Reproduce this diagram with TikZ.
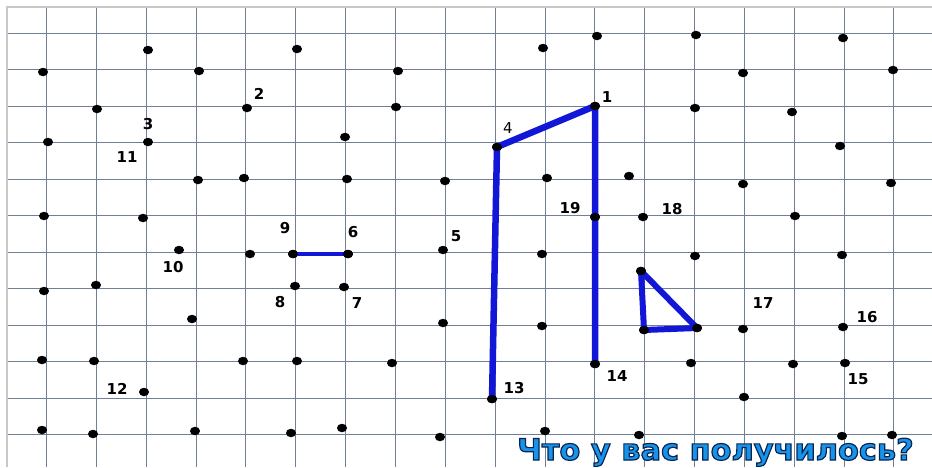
\documentclass[tikz,border=0pt]{standalone}
\usepackage{fontspec}
\setmainfont{DejaVu Sans}
\newfontfamily\numfont{DejaVu Sans Bold}
\newfontfamily\titlefont{DejaVu Sans Bold}[FakeStretch=1.03,FakeBold=4]
\usetikzlibrary{shapes.geometric}
\definecolor{gridc}{RGB}{112,126,150}
\definecolor{framec}{RGB}{200,200,200}
\definecolor{penblue}{RGB}{18,22,215}
\definecolor{titleblue}{RGB}{22,148,235}
\begin{document}
\begin{tikzpicture}[x=1pt,y=-1pt,
  gridline/.style={draw=gridc,line width=1pt},
  frameline/.style={draw=framec,line width=1.2pt},
  dot/.style={ellipse,fill=black,inner sep=0pt,minimum width=10pt,minimum height=8.5pt},
  num/.style={font=\numfont\fontsize{15}{15}\selectfont,inner sep=0pt},
  pen/.style={draw=penblue,line width=6.5pt,line cap=round,line join=round},
  titlestyle/.style={font=\titlefont\fontsize{29.5}{29.5}\selectfont,inner sep=0pt}]
\useasboundingbox[fill=white] (0,0) rectangle (932,467);
% graph paper
\foreach \i in {0,...,17} \draw[gridline] ({46.5+49.85*\i},7) -- ({46.5+49.85*\i},467);
\foreach \j in {0,...,11} \draw[gridline] (7,{33.5+36.45*\j}) -- (932,{33.5+36.45*\j});
\draw[frameline] (7,467) -- (7,7) -- (932,7);
% numbered points
\node[dot] (p1) at (595,106) {};
\node[dot] (p2) at (247,108) {};
\node[dot] (p3) at (148,142) {};
\node[dot] (p4) at (497,147) {};
\node[dot] (p5) at (443,250) {};
\node[dot] (p6) at (348,254) {};
\node[dot] (p7) at (344,287) {};
\node[dot] (p8) at (295,286) {};
\node[dot] (p9) at (293,254) {};
\node[dot] (p10) at (179,250) {};
\node[dot] (p12) at (144,392) {};
\node[dot] (p13) at (492,399) {};
\node[dot] (p14) at (595,364) {};
\node[dot] (p15) at (845,363) {};
\node[dot] (p16) at (843,327) {};
\node[dot] (p17) at (743,329) {};
\node[dot] (p18) at (643,217) {};
\node[dot] (p19) at (595,217) {};
\node[dot] (t1) at (641,271) {};
\node[dot] (t2) at (644,330) {};
\node[dot] (t3) at (697,328) {};
% other points
\foreach \x/\y [count=\k] in {148/50,297/49,43/72,199/71,398/71,97/109,396/107,48/142,345/137,198/180,244/178,347/179,445/181,44/216,143/218,
 250/254,44/291,96/285,192/319,443/323,42/360,94/361,243/361,297/361,392/363,42/430,93/434,195/431,291/433,342/428,440/437,
 543/48,597/36,696/35,843/38,743/73,893/70,695/108,792/112,840/146,547/178,629/176,743/184,891/183,795/216,
 542/254,695/256,842/255,542/326,691/363,793/364,744/397,545/431,639/435,842/436,892/435}
  \node[dot] (d\k) at (\x,\y) {};
% drawn figure
\draw[pen] (p13.center) -- (p4.center) -- (p1.center) -- (p14.center);
\draw[pen,line width=4.5pt] (p9.center) -- (p6.center);
\draw[pen,line width=6pt] (t1.center) -- (t2.center) -- (t3.center) -- cycle;
% redraw dots on the figure
\foreach \n in {p1,p4,p13,p14,p19,p9,p6,t1,t2,t3} \fill[black] (\n) ellipse (5pt and 4.2pt);
% labels
\node[num] (l1) at (607,97) {1};
\node[num] (l2) at (259,94) {2};
\node[num] (l3) at (148,124) {3};
\node[num,font=\fontsize{15}{15}\selectfont] (l4) at (508,128) {4};
\node[num] (l5) at (456,236) {5};
\node[num] (l6) at (353,232) {6};
\node[num] (l7) at (357,303) {7};
\node[num] (l8) at (280,302) {8};
\node[num] (l9) at (285,228) {9};
\node[num] (l10) at (173,267) {10};
\node[num] (l11) at (127,157) {11};
\node[num] (l12) at (117,389) {12};
\node[num] (l13) at (514,388) {13};
\node[num] (l14) at (617,376) {14};
\node[num] (l15) at (858,379) {15};
\node[num] (l16) at (867,317) {16};
\node[num] (l17) at (763,303) {17};
\node[num] (l18) at (672,209) {18};
\node[num] (l19) at (570,208) {19};
% title: blue fill with dark outline (stroke colour set separately)
\node[titlestyle,text=titleblue,anchor=base] (title) at (715.5,460) {\special{pdf:literal direct 0.04 0.14 0.31 RG}Что у вас получилось?};
\end{tikzpicture}
\end{document}
